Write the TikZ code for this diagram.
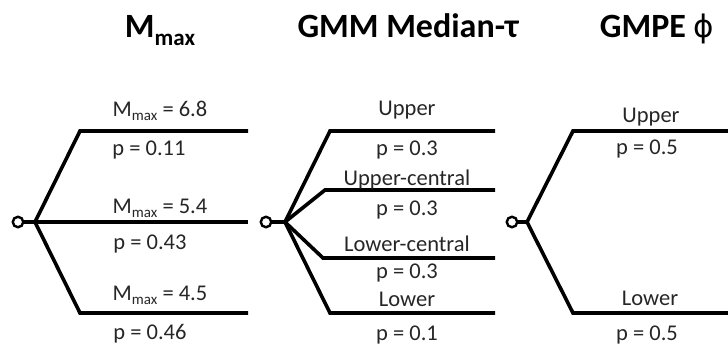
\documentclass[tikz,border=0pt]{standalone}
\usepackage{fontspec}
\setmainfont{Carlito}
\newfontfamily\symfont{DejaVu Sans}
\begin{document}
\begin{tikzpicture}[x=1pt,y=-1pt,
  br/.style={line width=3.6pt, line join=miter},
  root/.style={circle, draw, line width=2.4pt, fill=white, minimum size=10.5pt, inner sep=0pt},
  lab/.style={anchor=base, font=\fontsize{22.5}{26}\selectfont, text=black!85},
  ttl/.style={anchor=base, font=\fontsize{34}{40}\selectfont\bfseries, text=black}]
\useasboundingbox (0,0) rectangle (728,345);
\newcommand{\mmaxlab}{M\raisebox{-0.45ex}{\fontsize{15}{16}\selectfont max}}
% titles
\node[ttl] (t1) at (160,38) {M\raisebox{-0.45ex}{\fontsize{23}{25}\selectfont\bfseries max}};
\node[ttl] (t2) at (408,38) {GMM Median-τ};
\node[ttl] (t3) at (657,38) {GMPE {\symfont\mdseries\fontsize{31}{36}\selectfont ϕ}};
% panel 1
\coordinate (b1) at (35,222);
\coordinate (k1a) at (80,131); \coordinate (e1a) at (248,131);
\coordinate (e1b) at (248,222);
\coordinate (k1c) at (80,313); \coordinate (e1c) at (248,313);
\draw[br] (b1) -- (k1a) -- (e1a);
\draw[br] (b1) -- (e1b);
\draw[br] (b1) -- (k1c) -- (e1c);
\node[root] (c1) at (18,222) {};
\draw[br] (c1) -- (b1);
\node[lab] (l1a) at (160,116) {\mmaxlab{} = 6.8};
\node[lab] (p1a) at (149,155) {p = 0.11};
\node[lab] (l1b) at (160,213) {\mmaxlab{} = 5.4};
\node[lab] (p1b) at (150,249) {p = 0.43};
\node[lab] (l1c) at (160,300) {\mmaxlab{} = 4.5};
\node[lab] (p1c) at (150,339) {p = 0.46};
% panel 2
\coordinate (b2) at (285,222);
\coordinate (k2a) at (330,131); \coordinate (e2a) at (495,131);
\coordinate (k2b) at (325,190); \coordinate (e2b) at (495,190);
\coordinate (k2c) at (323,258); \coordinate (e2c) at (495,258);
\coordinate (k2d) at (330,313); \coordinate (e2d) at (495,313);
\draw[br] (b2) -- (k2a) -- (e2a);
\draw[br] (b2) -- (k2b) -- (e2b);
\draw[br] (b2) -- (k2c) -- (e2c);
\draw[br] (b2) -- (k2d) -- (e2d);
\node[root] (c2) at (266,222) {};
\draw[br] (c2) -- (b2);
\node[lab] (l2a) at (407,115) {Upper};
\node[lab] (p2a) at (407,155) {p = 0.3};
\node[lab] (l2b) at (407,185) {Upper-central};
\node[lab] (p2b) at (407,215) {p = 0.3};
\node[lab] (l2c) at (407,251) {Lower-central};
\node[lab] (p2c) at (407,278) {p = 0.3};
\node[lab] (l2d) at (407,306) {Lower};
\node[lab] (p2d) at (407,340) {p = 0.1};
% panel 3
\coordinate (b3) at (527,222);
\coordinate (k3a) at (573,131); \coordinate (e3a) at (728,131);
\coordinate (k3b) at (573,313); \coordinate (e3b) at (728,313);
\draw[br] (b3) -- (k3a) -- (e3a);
\draw[br] (b3) -- (k3b) -- (e3b);
\node[root] (c3) at (512,222) {};
\draw[br] (c3) -- (b3);
\node[lab] (l3a) at (651,122) {Upper};
\node[lab] (p3a) at (647,154) {p = 0.5};
\node[lab] (l3b) at (650,305) {Lower};
\node[lab] (p3b) at (647,340) {p = 0.5};
\end{tikzpicture}
\end{document}
